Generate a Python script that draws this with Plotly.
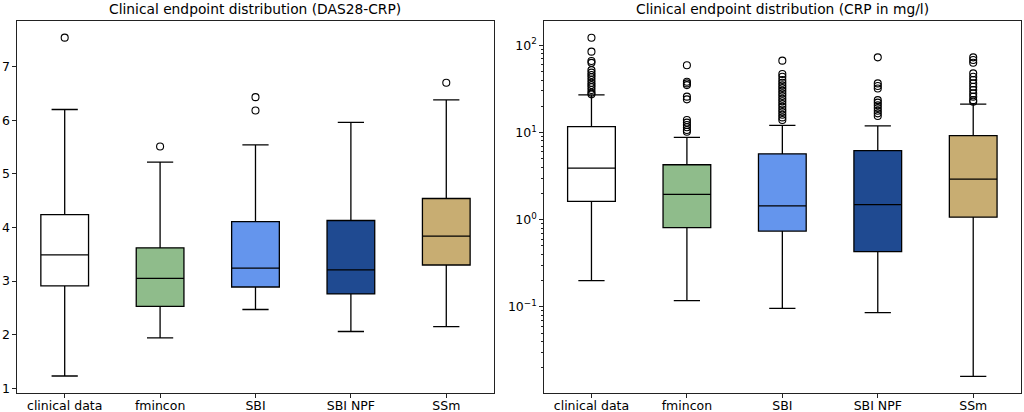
import plotly.graph_objects as go

categories = ["clinical data", "fmincon", "SBI", "SBI NPF", "SSm"]
colors = ["#FFFFFF", "#8FBC8B", "#6495ED", "#1F4A91", "#C8AD72"]

# DAS28-CRP stats: lower whisker, Q1, median, Q3, upper whisker
das_low = [1.23, 1.94, 2.47, 2.06, 2.15]
das_q1 = [2.91, 2.53, 2.89, 2.76, 3.30]
das_med = [3.49, 3.05, 3.24, 3.21, 3.84]
das_q3 = [4.24, 3.62, 4.11, 4.13, 4.54]
das_high = [6.20, 5.22, 5.54, 5.96, 6.38]
das_outliers = [[7.54], [5.51], [6.43, 6.18], [], [6.70]]

# CRP stats (mg/l)
crp_low = [0.20, 0.118, 0.096, 0.086, 0.016]
crp_q1 = [1.62, 0.81, 0.74, 0.43, 1.07]
crp_med = [3.9, 1.95, 1.44, 1.49, 2.92]
crp_q3 = [11.7, 4.27, 5.7, 6.2, 9.2]
crp_high = [27.0, 8.8, 12.1, 11.9, 21.2]
crp_outliers = [
    [122, 84.6, 66, 63, 52, 48.6, 45.6, 43, 40, 37.3, 35, 33, 30.7, 28.6, 27.4],
    [59, 38.3, 36.6, 35, 25.8, 24, 13.9, 13, 12.2, 11.5, 10.7, 10.2],
    [66.7, 46.9, 43.7, 40, 37.2, 34.7, 32.4, 30.2, 28.1, 26.2, 24.4, 22.8, 21.2,
     19.8, 18.4, 17.2, 16, 14.9, 13.9],
    [72.8, 36.6, 34.1, 32, 23.5, 22, 20.5, 19.1, 17.8, 16.6, 15.5],
    [72.8, 67.9, 63.2, 47.7, 43.7, 40, 36.6, 33.5, 30.7, 28.1, 25.8, 23.5, 22.5],
]

titles = ["Clinical endpoint distribution (DAS28-CRP)",
          "Clinical endpoint distribution (CRP in mg/l)"]
das_ticks = [1, 2, 3, 4, 5, 6, 7]
crp_ticks = [0.1, 1, 10, 100]
crp_ticktext = ["10<sup>−1</sup>", "10<sup>0</sup>", "10<sup>1</sup>", "10<sup>2</sup>"]

fig = go.Figure()

def add_panel(low, q1, med, q3, high, outl, xa, ya):
    for i, c in enumerate(categories):
        fig.add_trace(go.Box(
            x=[c], q1=[q1[i]], median=[med[i]], q3=[q3[i]],
            lowerfence=[low[i]], upperfence=[high[i]],
            fillcolor=colors[i], line=dict(color="black", width=1.3),
            width=0.5, whiskerwidth=0.55, boxpoints=False,
            xaxis=xa, yaxis=ya, showlegend=False, hoverinfo="skip"))
        if outl[i]:
            fig.add_trace(go.Scatter(
                x=[c] * len(outl[i]), y=outl[i], mode="markers",
                marker=dict(symbol="circle-open", size=7, color="black",
                            line=dict(width=1.1, color="black")),
                xaxis=xa, yaxis=ya, showlegend=False, hoverinfo="skip"))

add_panel(das_low, das_q1, das_med, das_q3, das_high, das_outliers, "x", "y")
add_panel(crp_low, crp_q1, crp_med, crp_q3, crp_high, crp_outliers, "x2", "y2")

font = dict(family="DejaVu Sans", size=12.5, color="black")
axis_common = dict(showline=True, linecolor="#222", linewidth=1, mirror=True,
                   ticks="outside", ticklen=3.5, tickwidth=1, tickcolor="#222",
                   showgrid=False, zeroline=False, tickfont=font)
xaxis_extra = dict(ticklabelstandoff=-3)

minor_vals = [m * 10 ** e for e in range(-2, 3) for m in range(2, 10)]

title_font = dict(family="DejaVu Sans", size=13.8, color="black")

fig.update_layout(
    width=1024, height=412,
    margin=dict(l=0, r=0, t=0, b=0, autoexpand=False),
    paper_bgcolor="white", plot_bgcolor="white",
    font=font,
    xaxis=dict(domain=[0.0166, 0.4824], range=[-0.5, 4.5], type="category",
               categoryorder="array", categoryarray=categories, anchor="y",
               **axis_common, **xaxis_extra),
    yaxis=dict(domain=[0.046, 0.949], range=[0.912, 7.85], tickvals=das_ticks,
               anchor="x", **axis_common),
    xaxis2=dict(domain=[0.531, 0.997], range=[-0.5, 4.5], type="category",
                categoryorder="array", categoryarray=categories, anchor="y2",
                **axis_common, **xaxis_extra),
    yaxis2=dict(domain=[0.046, 0.949], type="log", range=[-1.988, 2.279],
                tickvals=crp_ticks, ticktext=crp_ticktext, anchor="x2",
                minor=dict(tickvals=minor_vals, ticks="outside", ticklen=2,
                           tickcolor="#222", showgrid=False),
                **axis_common),
    annotations=[
        dict(text=titles[0], x=(0.0166 + 0.4824) / 2, y=1 - 9 / 412,
             xref="paper", yref="paper", showarrow=False, font=title_font,
             xanchor="center", yanchor="middle"),
        dict(text=titles[1], x=(0.531 + 0.997) / 2, y=1 - 9 / 412,
             xref="paper", yref="paper", showarrow=False, font=title_font,
             xanchor="center", yanchor="middle"),
    ],
)

fig.write_html("out.html", config={"displayModeBar": False},
               post_script="document.body.style.margin='0';document.body.style.overflow='hidden';")
